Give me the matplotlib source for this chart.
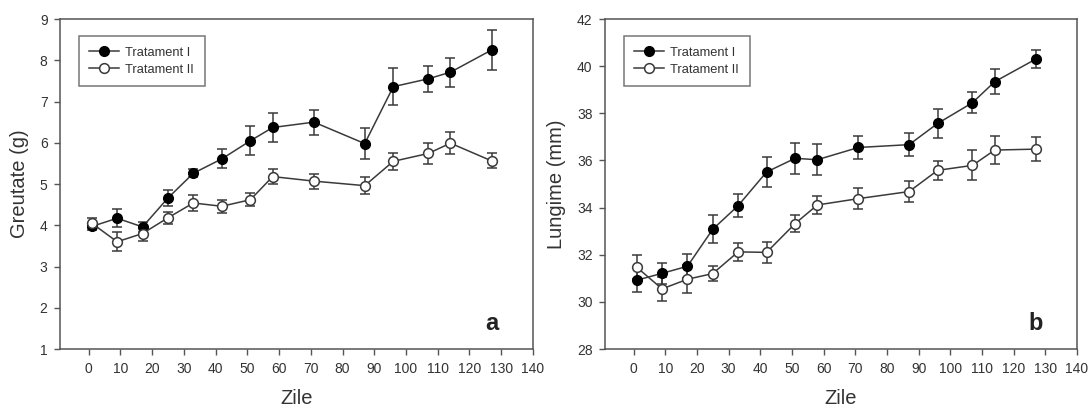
import numpy as np
import matplotlib
matplotlib.use("Agg")
import matplotlib.pyplot as plt
from matplotlib.lines import Line2D

plt.rcParams['font.family'] = ['Liberation Sans', 'DejaVu Sans']

# zile de masurare
zile = [1, 9, 17, 25, 33, 42, 51, 58, 71, 87, 96, 107, 114, 127]

# greutate (g)
greutate_t1 = [3.97, 4.17, 3.96, 4.66, 5.26, 5.61, 6.05, 6.37, 6.50, 5.98, 7.36, 7.55, 7.71, 8.25]
greutate_t1_err = [0.08, 0.22, 0.12, 0.20, 0.10, 0.23, 0.35, 0.34, 0.30, 0.38, 0.45, 0.31, 0.35, 0.49]
greutate_t2 = [4.05, 3.60, 3.80, 4.18, 4.54, 4.46, 4.62, 5.18, 5.07, 4.96, 5.55, 5.74, 5.99, 5.56]
greutate_t2_err = [0.12, 0.23, 0.17, 0.15, 0.20, 0.16, 0.15, 0.18, 0.18, 0.21, 0.21, 0.25, 0.27, 0.18]

# lungime (mm)
lungime_t1 = [30.92, 31.21, 31.51, 33.08, 34.08, 35.51, 36.09, 36.03, 36.55, 36.67, 37.57, 38.45, 39.34, 40.30]
lungime_t1_err = [0.52, 0.45, 0.50, 0.60, 0.48, 0.62, 0.66, 0.65, 0.48, 0.50, 0.60, 0.44, 0.54, 0.38]
lungime_t2 = [31.47, 30.55, 30.96, 31.20, 32.12, 32.10, 33.32, 34.11, 34.38, 34.68, 35.58, 35.79, 36.44, 36.48]
lungime_t2_err = [0.50, 0.50, 0.60, 0.33, 0.38, 0.45, 0.35, 0.38, 0.43, 0.45, 0.40, 0.64, 0.60, 0.52]

col = '#3a3a3a'
spine_col = '#555555'

fig = plt.figure(figsize=(10.89, 4.08), dpi=100)
ax1 = fig.add_axes([0.0551, 0.1446, 0.4343, 0.8088])
ax2 = fig.add_axes([0.5556, 0.1446, 0.4334, 0.8088])


def panel(ax, y1, e1, y2, e2, ylim, yticks, ylabel, litera):
    ax.errorbar(zile, y1, yerr=e1, color=col, ecolor=col, elinewidth=1.1,
                capsize=3.5, capthick=1.1, lw=1.1, marker='o', ms=7,
                mfc='black', mec='black', zorder=3)
    ax.errorbar(zile, y2, yerr=e2, color=col, ecolor=col, elinewidth=1.1,
                capsize=3.5, capthick=1.1, lw=1.1, marker='o', ms=7,
                mfc='white', mec=col, mew=1.1, zorder=3)
    ax.set_xlim(-9, 140)
    ax.set_ylim(*ylim)
    ax.set_xticks(range(0, 141, 10))
    ax.set_yticks(yticks)
    for s in ax.spines.values():
        s.set_color(spine_col)
        s.set_linewidth(1.1)
    ax.tick_params(direction='out', length=4, width=1, color=spine_col,
                   labelsize=10, labelcolor='#333333', pad=5)
    ax.set_xlabel('Zile', fontsize=14.5, color='#333333', labelpad=10)
    ax.set_ylabel(ylabel, fontsize=14.5, color='#333333', labelpad=8)
    h1 = Line2D([], [], color=col, lw=1.1, marker='o', ms=7, mfc='black', mec='black')
    h2 = Line2D([], [], color=col, lw=1.1, marker='o', ms=7, mfc='white', mec=col, mew=1.1)
    leg = ax.legend([h1, h2], ['Tratament I', 'Tratament II'], loc='upper left',
                    bbox_to_anchor=(0.04, 0.948), borderaxespad=0, fontsize=9.3,
                    frameon=True, fancybox=False, handlelength=2.3,
                    borderpad=0.8, labelspacing=0.4, handletextpad=0.5)
    leg.get_frame().set_edgecolor(spine_col)
    leg.get_frame().set_linewidth(1.1)
    for t in leg.get_texts():
        t.set_color('#333333')
    ax.text(0.913, 0.078, litera, transform=ax.transAxes, fontsize=17,
            fontweight='bold', ha='center', va='center', color='#222222')


panel(ax1, greutate_t1, greutate_t1_err, greutate_t2, greutate_t2_err,
      (1, 9), range(1, 10), 'Greutate (g)', 'a')
panel(ax2, lungime_t1, lungime_t1_err, lungime_t2, lungime_t2_err,
      (28, 42), range(28, 43, 2), 'Lungime (mm)', 'b')

plt.savefig('out.png', dpi=100)
